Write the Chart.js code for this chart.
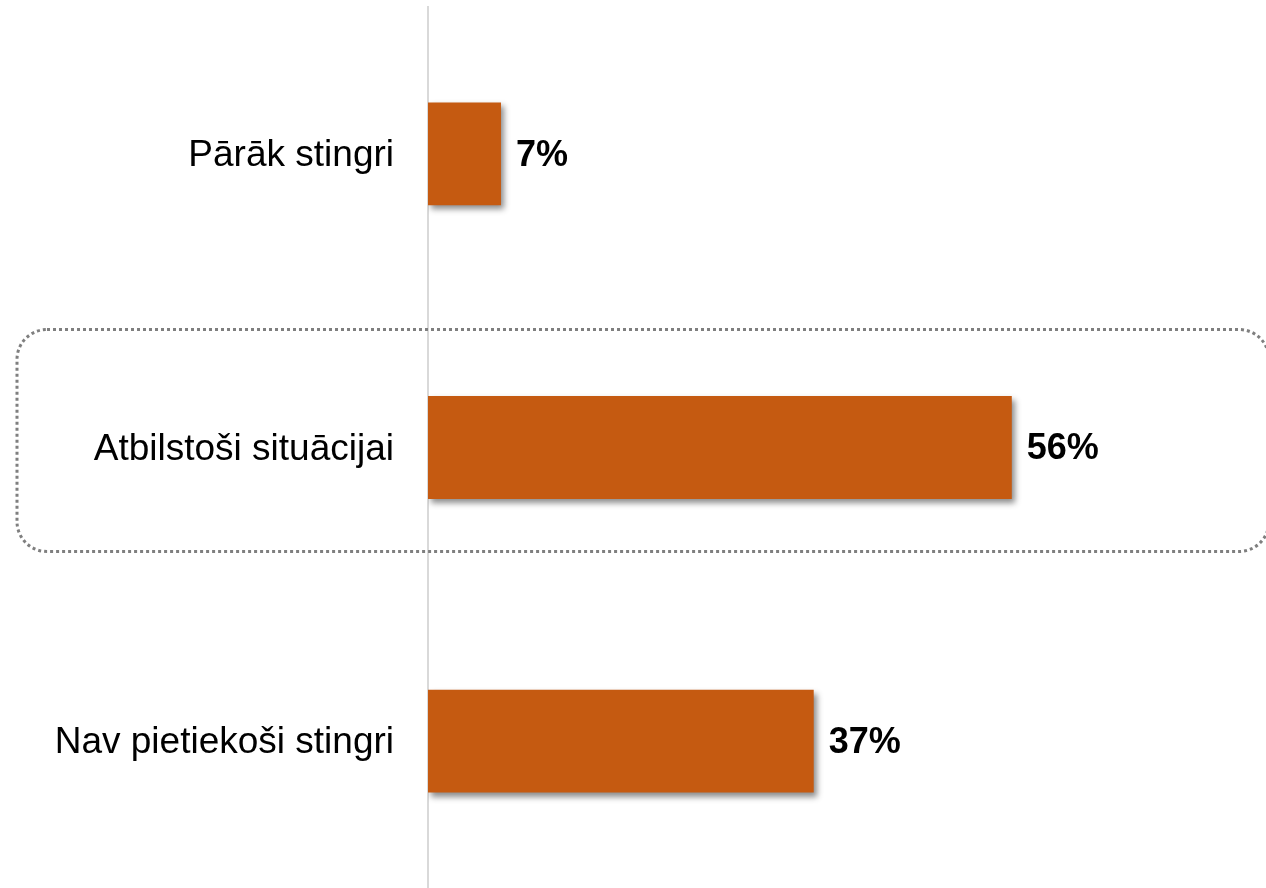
<!DOCTYPE html>
<html>
<head>
<meta charset="utf-8">
<script src="https://cdn.jsdelivr.net/npm/chart.js@4"></script>
<style>
  html, body { margin: 0; padding: 0; background: #fff; }
  #wrap { width: 1266px; height: 888px; position: relative; }
</style>
</head>
<body>
<div id="wrap"><canvas id="graph"></canvas></div>
<script>
const categories = ['Pārāk stingri', 'Atbilstoši situācijai', 'Nav pietiekoši stingri'];
const values = [7, 56, 37];
const highlighted = 1; // category inside the dotted frame

const barColor = '#C55A11';
const fontFamily = '"Liberation Sans", Arial, sans-serif';

// soft shadow under the bars
const barShadow = {
  id: 'barShadow',
  beforeDatasetsDraw(chart) {
    const ctx = chart.ctx;
    ctx.save();
    ctx.shadowColor = 'rgba(0, 0, 0, 0.45)';
    ctx.shadowBlur = 6;
    ctx.shadowOffsetX = 3;
    ctx.shadowOffsetY = 4;
  },
  afterDatasetsDraw(chart) {
    chart.ctx.restore();
  }
};

// percentage labels at the end of each bar
const valueLabels = {
  id: 'valueLabels',
  afterDatasetsDraw(chart) {
    const ctx = chart.ctx;
    const meta = chart.getDatasetMeta(0);
    ctx.save();
    ctx.font = 'bold 36px ' + fontFamily;
    ctx.fillStyle = '#000';
    ctx.textAlign = 'left';
    ctx.textBaseline = 'middle';
    meta.data.forEach((bar, i) => {
      ctx.fillText(values[i] + '%', bar.x + 15, bar.y + 2);
    });
    ctx.restore();
  }
};

// dotted rounded frame around the highlighted category
const frame = {
  id: 'frame',
  beforeDatasetsDraw(chart) {
    const ctx = chart.ctx;
    const cy = chart.scales.y.getPixelForValue(highlighted);
    const x = 17, w = 1252, y = cy - 118, h = 222, r = 30;
    ctx.save();
    ctx.strokeStyle = '#7F7F7F';
    ctx.lineWidth = 3;
    ctx.setLineDash([3, 3]);
    ctx.beginPath();
    ctx.roundRect(x, y, w, h, r);
    ctx.stroke();
    ctx.restore();
  }
};

new Chart(document.querySelector('#graph').getContext('2d'), {
  type: 'bar',
  data: {
    labels: categories,
    datasets: [{
      data: values,
      backgroundColor: barColor,
      borderWidth: 0,
      categoryPercentage: 1,
      barPercentage: 0.35
    }]
  },
  options: {
    indexAxis: 'y',
    responsive: true,
    maintainAspectRatio: false,
    animation: false,
    layout: { padding: { top: 7, right: 4, bottom: -3, left: 0 } },
    plugins: {
      legend: { display: false },
      tooltip: { enabled: false }
    },
    scales: {
      x: {
        display: false,
        min: 0,
        max: 80
      },
      y: {
        grid: { display: false, drawTicks: false },
        border: { display: true, color: '#D9D9D9', width: 2 },
        ticks: {
          color: '#000',
          padding: 34,
          labelOffset: 2,
          font: { family: fontFamily, size: 37 }
        },
        afterFit(scale) {
          scale.width = 428;
          scale.paddingTop = 0;
          scale.paddingBottom = 0;
        }
      }
    }
  },
  plugins: [frame, barShadow, valueLabels]
});
</script>
</body>
</html>
